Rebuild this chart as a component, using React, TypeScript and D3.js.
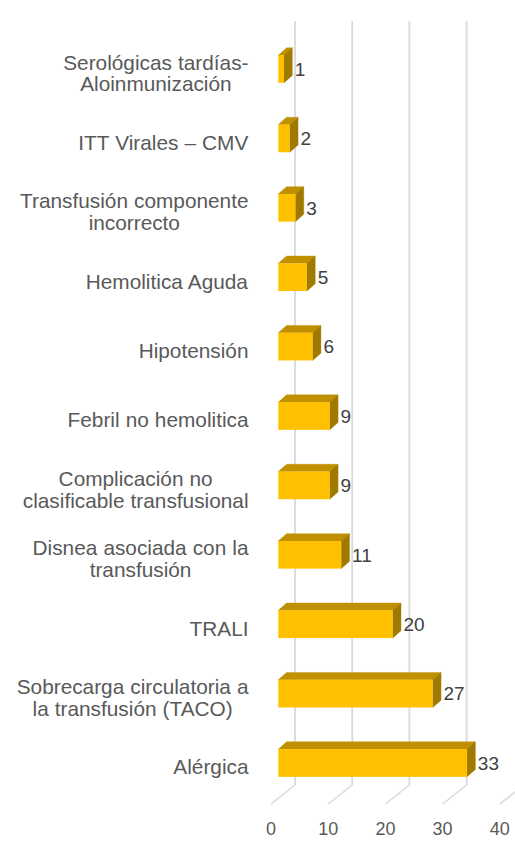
import React, { useMemo } from "react";
import * as d3 from "d3";

const categories: string[] = [
  "Serológicas tardías-\nAloinmunización",
  "ITT Virales – CMV",
  "Transfusión componente\nincorrecto",
  "Hemolitica Aguda",
  "Hipotensión",
  "Febril no hemolitica",
  "Complicación no\nclasificable transfusional",
  "Disnea asociada con la\ntransfusión",
  "TRALI",
  "Sobrecarga circulatoria a\nla transfusión (TACO)",
  "Alérgica",
];
const values: number[] = [1, 2, 3, 5, 6, 9, 9, 11, 20, 27, 33];
const ticks: number[] = [0, 10, 20, 30, 40];

const W = 515;
const H = 844;
const FONT = "Liberation Sans, Arial, sans-serif";
const LABEL_SIZE = 20.8;
const WORD_SP = 0.3;
const LINE_GAP = 21.8;

export default function App() {
  const x = d3.scaleLinear().domain([0, 40]).range([278.3, 278.3 + 228.8]);
  const y = d3.scalePoint<string>().domain(categories).range([69, 763]);
  const barH = 27.7;
  const dx = 8.3;
  const dy = -7.3;
  const wallDx = 16.7;
  const gridTop = 21;
  const floorBack = 785;
  const floorFront = 804;
  const floorDx = -24;

  const measure = useMemo(() => {
    const c = document.createElement("canvas").getContext("2d")!;
    c.font = `${LABEL_SIZE}px ${FONT}`;
    return (s: string) => c.measureText(s).width + (s.split(" ").length - 1) * WORD_SP;
  }, []);

  const labelRight = 248.5;

  return (
    <svg
      width={W}
      height={H}
      style={{ position: "absolute", left: 0, top: 0, display: "block", background: "#fff" }}
    >
      {ticks.map((t) => {
        const gx = x(t) + wallDx;
        return (
          <g key={"g" + t}>
            <line x1={gx} x2={gx} y1={gridTop} y2={floorBack} stroke="#d9d9d9" strokeWidth={1.8} />
            <line
              x1={gx}
              y1={floorBack}
              x2={gx + floorDx}
              y2={floorFront}
              stroke="#d9d9d9"
              strokeWidth={1.5}
            />
          </g>
        );
      })}

      {categories.map((c, i) => {
        const cy = y(c)!;
        const x0 = x(0);
        const x1 = x(values[i]);
        const top = cy - barH / 2;
        const bot = cy + barH / 2;
        const topFace = `M${x0},${top} L${x0 + dx},${top + dy} L${x1 + dx},${top + dy} L${x1},${top} Z`;
        const sideFace = `M${x1},${top} L${x1 + dx},${top + dy} L${x1 + dx},${bot + dy} L${x1},${bot} Z`;
        return (
          <g key={"b" + i}>
            <path d={topFace} fill="#C09000" stroke="#C09000" strokeWidth={0.4} />
            <path d={sideFace} fill="#A07A00" stroke="#A07A00" strokeWidth={0.4} />
            <rect x={x0} y={top} width={x1 - x0} height={barH} fill="#FFC000" />
            <text
              x={x1 + dx + 2.5}
              y={cy}
              dy="0.36em"
              fontFamily={FONT}
              fontSize={19}
              fill="#404040"
            >
              {values[i]}
            </text>
          </g>
        );
      })}

      {categories.map((c, i) => {
        const lines = c.split("\n");
        const maxW = Math.max(...lines.map(measure));
        const cx = labelRight - maxW / 2;
        const mid = y(c)! + 4;
        const capHalf = (LABEL_SIZE * 0.716) / 2;
        return (
          <text
            key={"l" + i}
            textAnchor="middle"
            fontFamily={FONT}
            fontSize={LABEL_SIZE}
            wordSpacing={WORD_SP}
            fill="#595959"
          >
            {lines.map((ln, j) => (
              <tspan
                key={j}
                x={cx}
                y={mid + capHalf + (j - (lines.length - 1) / 2) * LINE_GAP}
              >
                {ln}
              </tspan>
            ))}
          </text>
        );
      })}

      {ticks.map((t) => (
        <text
          key={"t" + t}
          x={x(t) - 7.3}
          y={835}
          textAnchor="middle"
          fontFamily={FONT}
          fontSize={18}
          fill="#595959"
        >
          {t}
        </text>
      ))}
    </svg>
  );
}
